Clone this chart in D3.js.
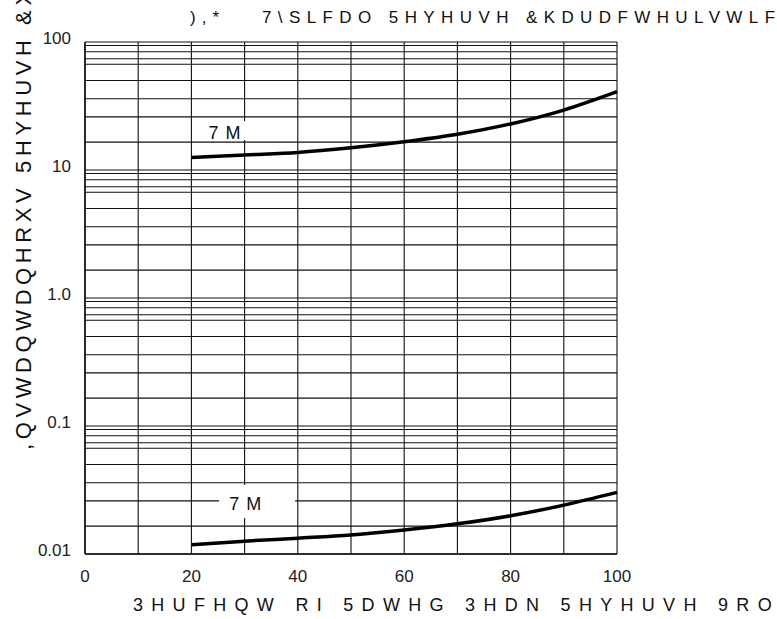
<!DOCTYPE html>
<html>
<head>
<meta charset="utf-8">
<script src="https://d3js.org/d3.v7.min.js"></script>
<style>
  body { margin: 0; background: #fff; }
  svg { display: block; }
  .tick-label { font-family: "Liberation Sans Narrow", "Arial Narrow", "Liberation Sans", sans-serif; font-size: 17px; fill: #222; }
  .caption { font-family: "Liberation Sans", Arial, sans-serif; fill: #111; }
</style>
</head>
<body>
<svg width="777" height="619"></svg>
<script>
var svg = d3.select('svg');

// Values
var xTicks = [0, 20, 40, 60, 80, 100];
var xGrid = [0, 10, 20, 30, 40, 50, 60, 70, 80, 90, 100];
var yTicks = [0.01, 0.1, 1, 10, 100];
var yTickLabels = ['0.01', '0.1', '1.0', '10', '100'];
var decades = [0.01, 0.1, 1, 10];
// minor lines inside each decade, as multiples of the decade bottom
var minorMults = [9.4, 8.4, 7.4, 6.7, 5.0, 3.6, 2.6, 1.65];

var voltagePct = [20, 30, 40, 50, 60, 70, 80, 90, 100];
var currentHot = [12.5, 13.1, 13.7, 14.9, 16.6, 19.0, 22.9, 29.4, 40.9];
var currentCold = [0.0118, 0.0126, 0.0133, 0.0141, 0.0154, 0.0172, 0.0199, 0.0241, 0.0303];

var curveLabel = '7 M';
var figText = '),*';
var titleText = '7\\SLFDO 5HYHUVH &KDUDFWHULVWLFV';
var xTitle = '3HUFHQW RI 5DWHG 3HDN 5HYHUVH 9ROWDJH';
var yTitle = ',QVWDQWDQHRXV 5HYHUVH &XUUHQW';

// Layout
var plot = {l: 85, r: 617, t: 42, b: 554};

var xScale = d3.scaleLinear().domain([0, 100]).range([plot.l, plot.r]);
var yScale = d3.scaleLog().domain([0.01, 100]).range([plot.b, plot.t]);

var gridG = svg.append('g').attr('class', 'grid');

// vertical grid
gridG.selectAll('.vline')
    .data(xGrid)
    .enter()
    .append('line')
    .attr('x1', function(d) { return xScale(d); })
    .attr('x2', function(d) { return xScale(d); })
    .attr('y1', plot.t)
    .attr('y2', plot.b)
    .attr('stroke', '#111')
    .attr('stroke-width', 1.1);

// horizontal grid: decade lines + minor lines
var hLines = [];
decades.forEach(function(dec) {
    minorMults.forEach(function(m) { hLines.push(dec * m); });
});
gridG.selectAll('.hline')
    .data(hLines.concat(yTicks))
    .enter()
    .append('line')
    .attr('x1', plot.l)
    .attr('x2', plot.r)
    .attr('y1', function(d) { return yScale(d); })
    .attr('y2', function(d) { return yScale(d); })
    .attr('stroke', '#111')
    .attr('stroke-width', 1.1);

// axis lines a touch heavier
svg.append('line')
    .attr('x1', plot.l).attr('x2', plot.r)
    .attr('y1', yScale(0.01)).attr('y2', yScale(0.01))
    .attr('stroke', '#111').attr('stroke-width', 1.5);
svg.append('line')
    .attr('x1', plot.l).attr('x2', plot.l)
    .attr('y1', plot.t).attr('y2', plot.b)
    .attr('stroke', '#111').attr('stroke-width', 1.5);

// tick labels
svg.selectAll('.ylab')
    .data(yTicks)
    .enter()
    .append('text')
    .attr('class', 'tick-label')
    .attr('x', 71)
    .attr('y', function(d) { return yScale(d) + 2; })
    .attr('text-anchor', 'end')
    .text(function(d, i) { return yTickLabels[i]; });

svg.selectAll('.xlab')
    .data(xTicks)
    .enter()
    .append('text')
    .attr('class', 'tick-label')
    .attr('x', function(d) { return xScale(d); })
    .attr('y', 582)
    .attr('text-anchor', 'middle')
    .text(function(d) { return d; });

// label boxes that interrupt the grid
svg.append('rect')
    .attr('x', xScale(21.5)).attr('y', yScale(24.1))
    .attr('width', xScale(31.3) - xScale(21.5))
    .attr('height', yScale(17.15) - yScale(24.1))
    .attr('fill', '#fff');
svg.append('rect')
    .attr('x', xScale(25.2)).attr('y', yScale(0.0346))
    .attr('width', xScale(39.5) - xScale(25.2))
    .attr('height', yScale(0.0191) - yScale(0.0346))
    .attr('fill', '#fff');

// curves
var line = d3.line()
    .x(function(d) { return xScale(d[0]); })
    .y(function(d) { return yScale(d[1]); })
    .curve(d3.curveMonotoneX);

[currentHot, currentCold].forEach(function(series) {
    svg.append('path')
        .datum(d3.zip(voltagePct, series))
        .attr('d', line)
        .attr('fill', 'none')
        .attr('stroke', '#000')
        .attr('stroke-width', 3.5);
});

// curve labels
svg.append('text')
    .attr('class', 'caption')
    .attr('x', xScale(23.2))
    .attr('y', yScale(17.6))
    .attr('font-size', 18)
    .attr('letter-spacing', 1)
    .style('white-space', 'pre')
    .text(curveLabel);
svg.append('text')
    .attr('class', 'caption')
    .attr('x', xScale(27.1))
    .attr('y', yScale(0.0222))
    .attr('font-size', 18)
    .attr('letter-spacing', 1)
    .style('white-space', 'pre')
    .text(curveLabel);

// titles
svg.append('text')
    .attr('class', 'caption')
    .attr('x', 190)
    .attr('y', 23)
    .attr('font-size', 17)
    .attr('letter-spacing', 6)
    .text(figText);

svg.append('text')
    .attr('class', 'caption')
    .attr('x', 262)
    .attr('y', 23)
    .attr('font-size', 17)
    .attr('letter-spacing', 6.4)
    .style('white-space', 'pre')
    .text(titleText);

svg.append('text')
    .attr('class', 'caption')
    .attr('x', 133)
    .attr('y', 611)
    .attr('font-size', 18)
    .attr('letter-spacing', 8.3)
    .style('white-space', 'pre')
    .text(xTitle);

svg.append('text')
    .attr('class', 'caption')
    .attr('transform', 'translate(31,450)rotate(-90)')
    .attr('font-size', 22)
    .attr('letter-spacing', 4.6)
    .style('white-space', 'pre')
    .text(yTitle);
</script>
</body>
</html>
